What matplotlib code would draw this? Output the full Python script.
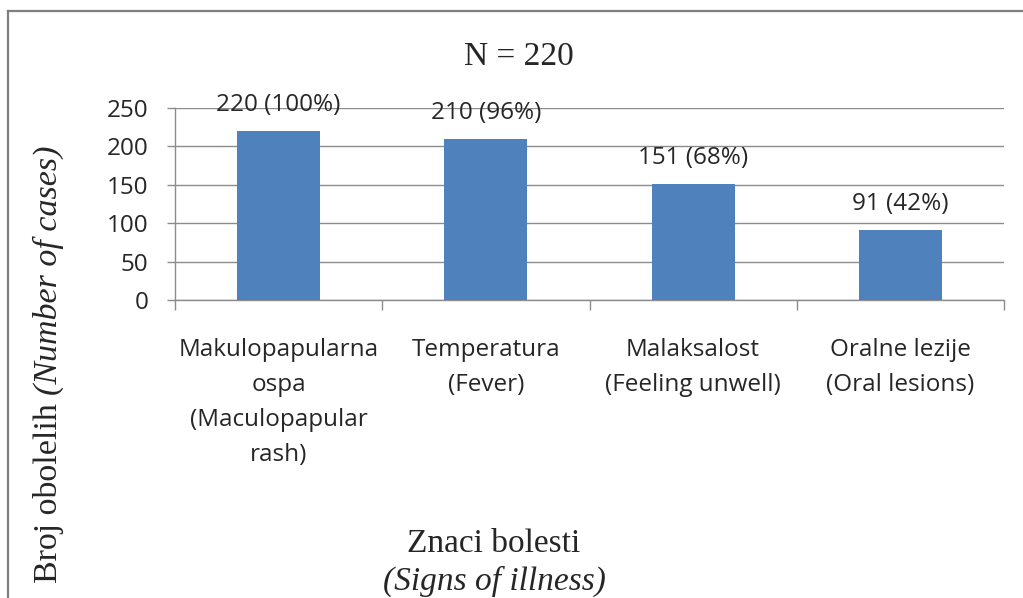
import matplotlib
matplotlib.use("Agg")
import matplotlib.pyplot as plt
from matplotlib.lines import Line2D
import numpy as np

# ---- data ----
categories = [
    "Makulopapularna\nospa\n(Maculopapular\nrash)",
    "Temperatura\n(Fever)",
    "Malaksalost\n(Feeling unwell)",
    "Oralne lezije\n(Oral lesions)",
]
counts = [220, 210, 151, 91]
percents = [100, 96, 68, 42]
yticks = [0, 50, 100, 150, 200, 250]
title = "N = 220"
ylabel_main = "Broj obolelih"
ylabel_ital = "(Number of cases)"
xlabel_main = "Znaci bolesti"
xlabel_ital = "(Signs of illness)"

W, H = 1023, 598
DPI = 100
fig = plt.figure(figsize=(W / DPI, H / DPI), dpi=DPI)
fig.patch.set_facecolor("white")

SANS = "Open Sans"
SERIF = "Liberation Serif"
TXT = "#262626"
GRID = "#8c8c8c"
BAR = "#4f81bd"

def fx(px):
    return px / W

def fy(py):
    return 1 - py / H

ax = fig.add_axes([fx(175), fy(300), fx(1004) - fx(175), fy(108) - fy(300)])
x = np.arange(len(categories))
bars = ax.bar(x, counts, width=0.4, color=BAR, zorder=3)
ax.set_xlim(-0.5, len(categories) - 0.5)
ax.set_ylim(0, 250)
ax.set_yticks(yticks)
ax.yaxis.grid(True, color=GRID, linewidth=1.0, zorder=0)
ax.set_axisbelow(True)
for s in ["top", "right"]:
    ax.spines[s].set_visible(False)
for s in ["left", "bottom"]:
    ax.spines[s].set_color(GRID)
    ax.spines[s].set_linewidth(1.0)

ax.tick_params(axis="y", direction="out", length=5.8, width=1.0, color=GRID,
               pad=13.5, labelsize=17.5, labelcolor=TXT)
for lab in ax.get_yticklabels():
    lab.set_fontfamily(SANS)

ax.set_xticks(x)
ax.set_xticklabels(categories, fontfamily=SANS, fontsize=17.5, color=TXT,
                   linespacing=1.62, va="top")
ax.tick_params(axis="x", which="major", length=0, pad=27.0)
ax.set_xticks(np.arange(-0.5, len(categories)), minor=True)
ax.tick_params(axis="x", which="minor", direction="out", length=7.2, width=1.0, color=GRID)

for xi, c, p in zip(x, counts, percents):
    ax.annotate(f"{c} ({p}%)", xy=(xi, c), xytext=(0, 14.4), textcoords="offset points",
                ha="center", va="baseline", fontfamily=SANS, fontsize=17.5, color=TXT)

# title
fig.text(fx(519), fy(65), title, ha="center", va="baseline",
         fontfamily=SERIF, fontsize=24, color=TXT)

# x label (two lines, second italic)
fig.text(fx(494), fy(552), xlabel_main, ha="center", va="baseline",
         fontfamily=SERIF, fontsize=24, color=TXT)
fig.text(fx(494), fy(590), xlabel_ital, ha="center", va="baseline",
         fontfamily=SERIF, fontsize=24, style="italic", color=TXT)

# y label: regular + italic parts, rotated
fig.canvas.draw()
renderer = fig.canvas.get_renderer()
t1 = fig.text(fx(57), fy(583), ylabel_main, rotation=90, rotation_mode="anchor",
              ha="left", va="baseline", fontfamily=SERIF, fontsize=24.5, color=TXT)
ext = t1.get_window_extent(renderer)
gap = 0.25 * 24.5 * DPI / 72
t2 = fig.text(fx(57), (ext.y1 + gap) / H, ylabel_ital, rotation=90,
              rotation_mode="anchor", ha="left", va="baseline", fontfamily=SERIF,
              fontsize=24.5, style="italic", weight="normal", color=TXT)

# outer border (left and top visible)
border_c = "#7f7f7f"
fig.add_artist(Line2D([fx(8), fx(8)], [fy(11), 0], transform=fig.transFigure,
                      color=border_c, linewidth=1.6))
fig.add_artist(Line2D([fx(8), 1], [fy(11), fy(11)], transform=fig.transFigure,
                      color=border_c, linewidth=1.6))

fig.savefig("out.png", dpi=DPI, facecolor="white")
